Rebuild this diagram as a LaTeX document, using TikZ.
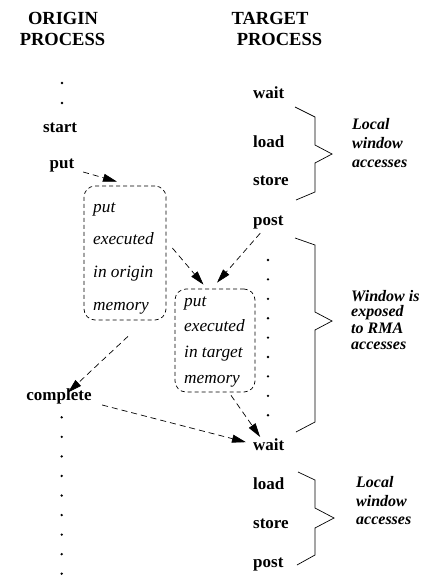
\documentclass[tikz,border=0pt]{standalone}
\usepackage{fontspec}
\setmainfont{Liberation Serif}
\usetikzlibrary{arrows.meta}
\tikzset{
  lbl/.style={font=\fontsize{17}{20}\selectfont\bfseries, inner sep=1pt},
  ttl/.style={font=\fontsize{18.5}{22}\selectfont\bfseries, inner sep=1pt, anchor=base},
  boxtxt/.style={font=\fontsize{17.3}{20}\selectfont\itshape, inner sep=1pt, anchor=base west},
  note/.style={font=\fontsize{16}{18}\selectfont\bfseries\itshape, inner sep=1pt, anchor=base west},
  dotm/.style={circle, fill, inner sep=0pt, minimum size=2.6pt},
  dbox/.style={draw, dash pattern=on 4pt off 3pt, rounded corners=11pt, inner sep=0pt, line width=0.7pt},
  arr/.style={line width=0.7pt, dash pattern=on 6pt off 4pt, -{Triangle[length=14pt,width=8pt]}},
  bracel/.style={line width=0.7pt}
}
\begin{document}
\begin{tikzpicture}[x=1pt,y=-1pt]
\useasboundingbox (0,0) rectangle (424,576);
% titles
\node[ttl] (t1) at (63,24) {ORIGIN};
\node[ttl] (t2) at (62.5,45) {PROCESS};
\node[ttl] (t3) at (270,24) {TARGET};
\node[ttl] (t4) at (279.5,45) {PROCESS};
% origin column
\node[dotm] (od1) at (62,83) {};
\node[dotm] (od2) at (62,103) {};
\node[lbl, anchor=base] (start) at (60,132) {start};
\node[lbl, anchor=base] (put) at (62,168) {put};
\node[lbl, anchor=base] (complete) at (59,400) {complete};
\foreach \i in {0,...,8} {
  \node[dotm] (odd\i) at (61.7,{417.3+19.55*\i}) {};
}
% target column
\node[lbl, anchor=base west] (wait1) at (252,98) {wait};
\node[lbl, anchor=base west] (load1) at (252,147) {load};
\node[lbl, anchor=base west] (store1) at (252,185) {store};
\node[lbl, anchor=base west] (post1) at (252,225) {post};
\foreach \i in {0,...,8} {
  \node[dotm] (td\i) at (268,{260+19.4*\i}) {};
}
\node[lbl, anchor=base west] (wait2) at (252,450) {wait};
\node[lbl, anchor=base west] (load2) at (252,489) {load};
\node[lbl, anchor=base west] (store2) at (252,528) {store};
\node[lbl, anchor=base west] (post2) at (252,567) {post};
% boxes
\node[dbox, minimum width=82pt, minimum height=134pt] (box1) at (125,253) {};
\node[boxtxt] (b1a) at (92,212) {put};
\node[boxtxt] (b1b) at (92,244) {executed};
\node[boxtxt] (b1c) at (92,277) {in origin};
\node[boxtxt] (b1d) at (92,310) {memory};
\node[dbox, minimum width=80pt, minimum height=103pt] (box2) at (215,340.5) {};
\node[boxtxt] (b2a) at (183,306) {put};
\node[boxtxt] (b2b) at (183,331) {executed};
\node[boxtxt] (b2c) at (183,357) {in target};
\node[boxtxt] (b2d) at (183,383) {memory};
% arrows
\draw[arr] ([xshift=7.7pt,yshift=-4pt]put.base east) -- ([xshift=-8pt,yshift=4pt]box1.north);
\draw[arr] ([xshift=6pt,yshift=5pt]box1.east) -- ([xshift=-11.5pt,yshift=4pt]box2.north);
\draw[arr] ([xshift=-8pt,yshift=-3.3pt]post1.south) -- ([xshift=2pt,yshift=6pt]box2.north);
\draw[arr] ([xshift=3pt,yshift=-16pt]box1.south) -- ([xshift=9pt,yshift=-5.5pt]complete.north);
\draw[arr] ([xshift=9.4pt,yshift=-5pt]complete.base east) -- ([xshift=-6pt,yshift=2pt]wait2.west);
\draw[arr] ([xshift=16pt,yshift=-3pt]box2.south) -- ([xshift=-8.6pt]wait2.north);
% braces
\draw[bracel] (295,107) -- (315,117) -- (315,145) -- (332,154) -- (315,163) -- (315,192) -- (296,200);
\draw[bracel] (295,238) -- (315,245) -- (315,312) -- (332,321) -- (315,330) -- (315,422) -- (296,432);
\draw[bracel] (298,472) -- (315,480) -- (315,508) -- (334,518) -- (315,528) -- (315,555) -- (297,565);
% notes
\node[note] (n1a) at (351,129) {Local};
\node[note] (n1b) at (351,148) {window};
\node[note] (n1c) at (351,167) {accesses};
\node[note] (n2a) at (350,301) {Window is};
\node[note] (n2b) at (350,316) {exposed};
\node[note] (n2c) at (350,333) {to RMA};
\node[note] (n2d) at (350,349) {accesses};
\node[note] (n3a) at (355,487) {Local};
\node[note] (n3b) at (355,506) {window};
\node[note] (n3c) at (355,524) {accesses};
\end{tikzpicture}
\end{document}
